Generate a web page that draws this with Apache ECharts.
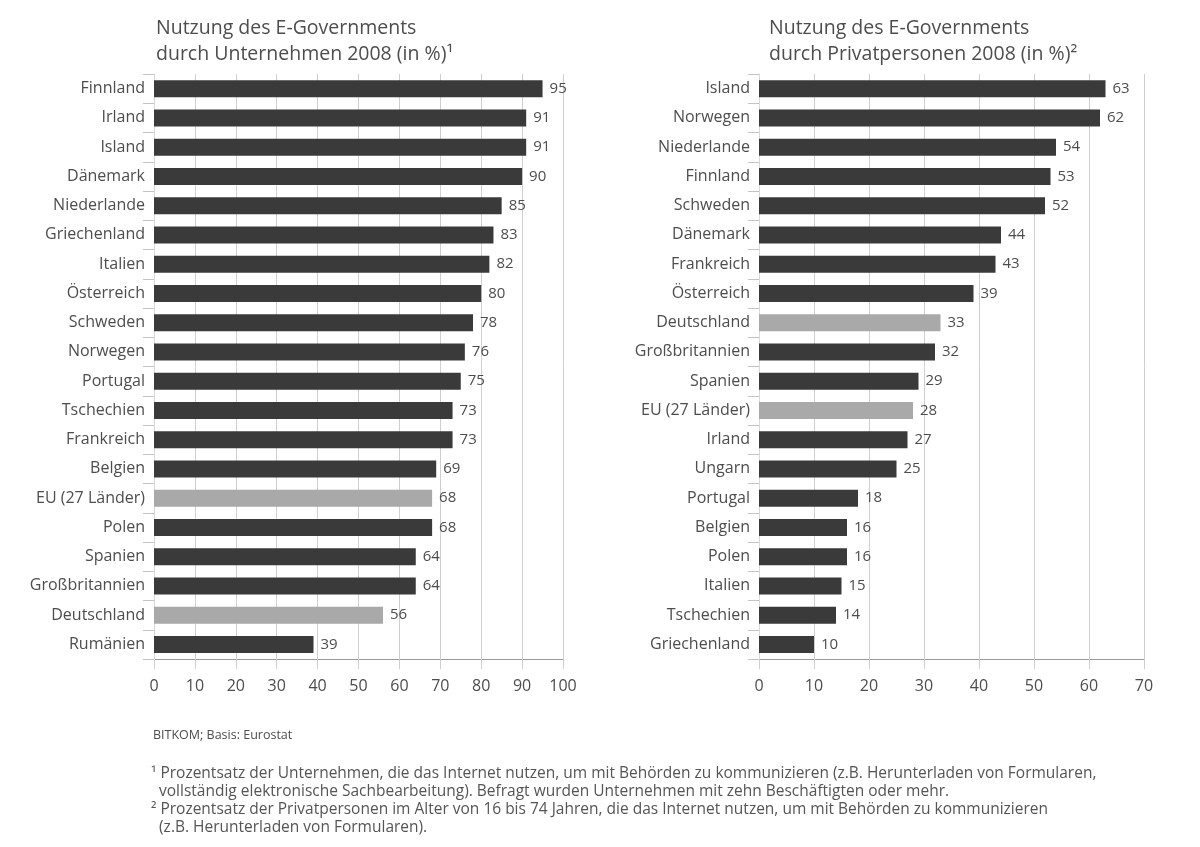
<!DOCTYPE html>
<html>
<head>
<meta charset="utf-8">
<script src="https://cdn.jsdelivr.net/npm/echarts@6/dist/echarts.min.js"></script>
<style>
  html, body { margin: 0; padding: 0; background: #fff; }
  #chart { width: 1200px; height: 847px; }
</style>
</head>
<body>
<div id="chart"></div>
<script>
// Unternehmen (Anteil in %)
const companyCountries = ['Finnland', 'Irland', 'Island', 'Dänemark', 'Niederlande', 'Griechenland', 'Italien', 'Österreich', 'Schweden', 'Norwegen', 'Portugal', 'Tschechien', 'Frankreich', 'Belgien', 'EU (27 Länder)', 'Polen', 'Spanien', 'Großbritannien', 'Deutschland', 'Rumänien'];
const companyValues = [95, 91, 91, 90, 85, 83, 82, 80, 78, 76, 75, 73, 73, 69, 68, 68, 64, 64, 56, 39];

// Privatpersonen (Anteil in %)
const privateCountries = ['Island', 'Norwegen', 'Niederlande', 'Finnland', 'Schweden', 'Dänemark', 'Frankreich', 'Österreich', 'Deutschland', 'Großbritannien', 'Spanien', 'EU (27 Länder)', 'Irland', 'Ungarn', 'Portugal', 'Belgien', 'Polen', 'Italien', 'Tschechien', 'Griechenland'];
const privateValues = [63, 62, 54, 53, 52, 44, 43, 39, 33, 32, 29, 28, 27, 25, 18, 16, 16, 15, 14, 10];

// Hervorgehobene Kategorien
const highlighted = ['Deutschland', 'EU (27 Länder)'];

const FONT = '"Open Sans", sans-serif';
const DARK = '#3a3a3a';
const LIGHT = '#a9a9a9';
const TEXT = '#4d4d4d';
const GRIDLINE = '#cfcfcf';

function barData(cats, vals) {
  return vals.map((v, i) => ({
    value: v,
    itemStyle: { color: highlighted.includes(cats[i]) ? LIGHT : DARK }
  }));
}

function xAxisDef(gridIndex, max) {
  return {
    type: 'value', gridIndex, min: 0, max, interval: 10,
    axisLine: { show: true, lineStyle: { color: '#9a9a9a', width: 1 } },
    axisTick: { show: true, length: 10, lineStyle: { color: GRIDLINE } },
    splitLine: { show: true, lineStyle: { color: GRIDLINE, width: 1 } },
    axisLabel: { color: TEXT, fontFamily: FONT, fontSize: 16, margin: 19 }
  };
}

function yAxisDef(gridIndex, cats) {
  return {
    type: 'category', gridIndex, data: cats, inverse: true,
    axisLine: { show: true, lineStyle: { color: '#d8d8d8' } },
    axisTick: { show: true, length: 11, lineStyle: { color: '#c4c4c4' } },
    axisLabel: { color: TEXT, fontFamily: FONT, fontSize: 16, margin: 9 }
  };
}

function seriesDef(idx, cats, vals) {
  return {
    type: 'bar', xAxisIndex: idx, yAxisIndex: idx,
    data: barData(cats, vals),
    barWidth: 17,
    label: {
      show: true, position: 'right', distance: 7,
      color: TEXT, fontFamily: FONT, fontSize: 15
    },
    silent: true
  };
}

const chart = echarts.init(document.getElementById('chart'), null, { renderer: 'canvas' });
chart.setOption({
  backgroundColor: '#fff',
  animation: false,
  title: [
    {
      text: 'Nutzung des E-Governments\ndurch Unternehmen 2008 (in %)¹',
      left: 151, top: 10,
      textStyle: { color: TEXT, fontFamily: FONT, fontSize: 19.5, fontWeight: 'normal', lineHeight: 26 }
    },
    {
      text: 'Nutzung des E-Governments\ndurch Privatpersonen 2008 (in %)²',
      left: 764, top: 10,
      textStyle: { color: TEXT, fontFamily: FONT, fontSize: 19.5, fontWeight: 'normal', lineHeight: 26 }
    },
    {
      text: 'BITKOM; Basis: Eurostat',
      left: 148, top: 724,
      textStyle: { color: TEXT, fontFamily: FONT, fontSize: 12.5, fontWeight: 'normal' }
    },
    {
      text: '¹ Prozentsatz der Unternehmen, die das Internet nutzen, um mit Behörden zu kommunizieren (z.B. Herunterladen von Formularen,\n' +
            '  vollständig elektronische Sachbearbeitung). Befragt wurden Unternehmen mit zehn Beschäftigten oder mehr.\n' +
            '² Prozentsatz der Privatpersonen im Alter von 16 bis 74 Jahren, die das Internet nutzen, um mit Behörden zu kommunizieren\n' +
            '  (z.B. Herunterladen von Formularen).',
      left: 146, top: 759,
      textStyle: { color: '#555', fontFamily: FONT, fontSize: 15.5, fontWeight: 'normal', lineHeight: 18.3 }
    }
  ],
  grid: [
    { left: 154, right: 637, top: 74, bottom: 188 },
    { left: 759, right: 56, top: 74, bottom: 188 }
  ],
  xAxis: [xAxisDef(0, 100), xAxisDef(1, 70)],
  yAxis: [yAxisDef(0, companyCountries), yAxisDef(1, privateCountries)],
  series: [
    seriesDef(0, companyCountries, companyValues),
    seriesDef(1, privateCountries, privateValues)
  ]
});
</script>
</body>
</html>
